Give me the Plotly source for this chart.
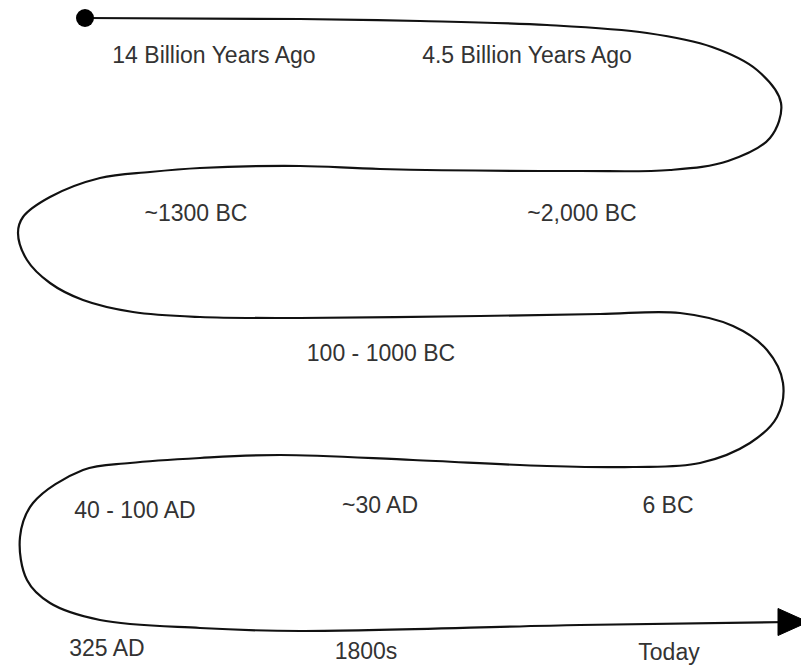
import plotly.graph_objects as go

# Serpentine timeline path waypoints (pixel space of the 809x665 reference)
path_x = [85, 300, 420, 547, 647, 712, 757, 781, 770, 728, 670, 580, 380,
          300, 200, 150, 100, 50, 23, 18, 27, 50, 83, 133, 200, 300,
          480, 600, 680, 733, 767, 783, 777, 750, 700, 633, 547, 413, 280,
          200, 130, 83, 33, 20, 27, 50, 100, 200, 300, 580, 790]
path_y = [18, 19, 21, 25, 33, 47, 70, 103, 138, 161, 170, 171, 169,
          166, 168, 172, 178, 197, 217, 233, 260, 283, 300, 312, 317, 318,
          316, 314, 313, 326, 350, 383, 417, 443, 463, 467, 466, 460, 455,
          458, 463, 470, 503, 537, 580, 603, 620, 628, 631, 625, 622]

labels = ["14 Billion Years Ago", "4.5 Billion Years Ago", "~1300 BC", "~2,000 BC",
          "100 - 1000 BC", "40 - 100 AD", "~30 AD", "6 BC", "325 AD", "1800s", "Today"]
label_x = [214, 527, 196, 582, 381, 135, 380, 668, 107, 366, 669]
label_y = [57, 57, 215, 215, 355, 512, 507, 507, 650, 653, 654]

W, H = 809, 665
PAD = 8  # default page body margin
LINE = "#111111"

fig = go.Figure()

fig.add_trace(go.Scatter(
    x=path_x, y=path_y, mode="lines",
    line=dict(color=LINE, width=2.2, shape="spline", smoothing=1.0),
    hoverinfo="skip", showlegend=False))

# start dot
fig.add_trace(go.Scatter(
    x=[path_x[0]], y=[path_y[0]], mode="markers",
    marker=dict(color="#000000", size=18),
    hoverinfo="skip", showlegend=False))

# arrowhead derived from the path end
tip_x, tip_y = path_x[-1] + 18, path_y[-1]
head_len, head_half = 30, 13.5
fig.add_trace(go.Scatter(
    x=[tip_x - head_len, tip_x, tip_x - head_len, tip_x - head_len],
    y=[tip_y - head_half, tip_y, tip_y + head_half, tip_y - head_half],
    mode="lines", fill="toself", fillcolor="#000000",
    line=dict(color="#000000", width=1),
    hoverinfo="skip", showlegend=False))

fig.add_trace(go.Scatter(
    x=label_x, y=label_y, mode="text", text=labels,
    textposition="middle center",
    textfont=dict(family="Liberation Sans, Arial, sans-serif", size=23, color="#333333"),
    hoverinfo="skip", showlegend=False))

fig.update_layout(
    width=W - PAD, height=H - PAD,
    margin=dict(l=0, r=0, t=0, b=0),
    paper_bgcolor="white", plot_bgcolor="white",
    xaxis=dict(range=[PAD, W], visible=False, fixedrange=True),
    yaxis=dict(range=[H, PAD], visible=False, fixedrange=True),
)

fig.write_html("out.html")
